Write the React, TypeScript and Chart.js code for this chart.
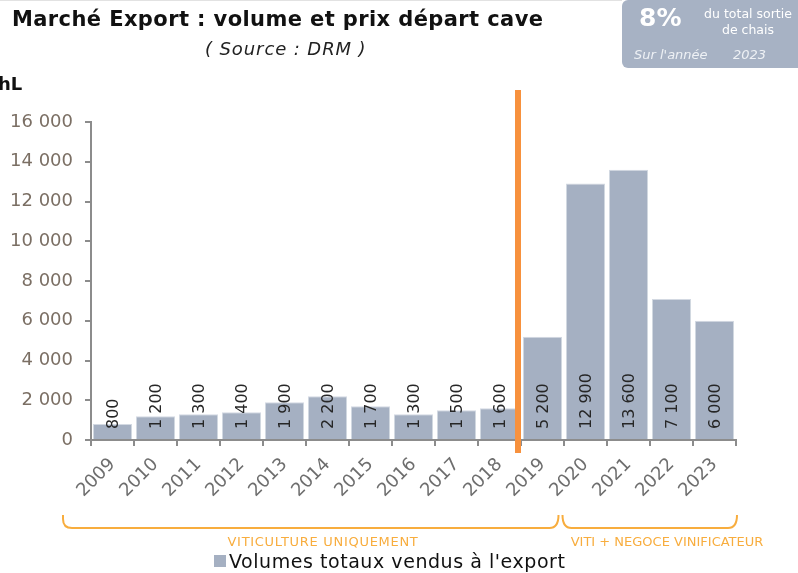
import React, { useEffect, useRef } from "react";
import { Chart, registerables } from "chart.js";

Chart.register(...registerables);

const categories = ["2009", "2010", "2011", "2012", "2013", "2014", "2015", "2016", "2017", "2018", "2019", "2020", "2021", "2022", "2023"];
const volumes = [800, 1200, 1300, 1400, 1900, 2200, 1700, 1300, 1500, 1600, 5200, 12900, 13600, 7100, 6000];
const yMin = 0;
const yMax = 16000;
const yStep = 2000;
const seriesName = "Volumes totaux vendus à l'export";
const groupLabels = ["VITICULTURE UNIQUEMENT", "VITI + NEGOCE VINIFICATEUR"];
const splitIndex = 10; // first category of the second period

const fmt = (v: number) => String(v).replace(/\B(?=(\d{3})+(?!\d))/g, " ");

const BAR = "#a5b0c2";
const ORANGE = "#f7913d";
const BRACKET = "#f8ad3e";
const AXIS = "#8c8c8c";
const FONT = '"DejaVu Sans", sans-serif';

const decorPlugin = {
  id: "decor",
  afterDatasetsDraw(chart: any) {
    const ctx = chart.ctx;
    const meta = chart.getDatasetMeta(0);
    ctx.save();
    ctx.fillStyle = "#262626";
    ctx.font = '16px "DejaVu Sans"';
    ctx.textAlign = "left";
    ctx.textBaseline = "middle";
    meta.data.forEach((el: any, i: number) => {
      ctx.save();
      ctx.translate(el.x + 1, el.base - 10);
      ctx.rotate(-Math.PI / 2);
      ctx.fillText(fmt(volumes[i]), 0, 0);
      ctx.restore();
    });
    ctx.restore();
  },
  afterDraw(chart: any) {
    const ctx = chart.ctx;
    const x = chart.scales.x;
    const area = chart.chartArea;
    const boundary = (x.getPixelForValue(splitIndex - 1) + x.getPixelForValue(splitIndex)) / 2;
    ctx.save();
    ctx.fillStyle = ORANGE;
    ctx.fillRect(boundary - 6, area.top - 32, 6, area.bottom - area.top + 45);
    const top = area.bottom + 75;
    const bot = area.bottom + 88;
    const r = 9;
    const l1 = area.left - 28;
    const join = x.getPixelForValue(splitIndex) + 18;
    const r2 = area.right + 1;
    ctx.strokeStyle = BRACKET;
    ctx.lineWidth = 2;
    ctx.beginPath();
    ctx.moveTo(l1, top);
    ctx.lineTo(l1, bot - r);
    ctx.quadraticCurveTo(l1, bot, l1 + r, bot);
    ctx.lineTo(join - 2 - r, bot);
    ctx.quadraticCurveTo(join - 2, bot, join - 2, top);
    ctx.stroke();
    ctx.beginPath();
    ctx.moveTo(join + 2, top);
    ctx.quadraticCurveTo(join + 2, bot, join + 2 + r, bot);
    ctx.lineTo(r2 - r, bot);
    ctx.quadraticCurveTo(r2, bot, r2, top);
    ctx.stroke();
    ctx.restore();
  },
};

export default function App() {
  const ref = useRef<HTMLCanvasElement>(null);
  useEffect(() => {
    if (!ref.current) return;
    const chart = new Chart(ref.current, {
      type: "bar",
      data: {
        labels: categories,
        datasets: [
          {
            label: seriesName,
            data: volumes,
            backgroundColor: BAR,
            borderColor: "#d3d9e2",
            borderWidth: 1,
            categoryPercentage: 1,
            barPercentage: 0.91,
          },
        ],
      },
      options: {
        animation: false,
        responsive: true,
        maintainAspectRatio: false,
        layout: { padding: { top: 122, right: 62, left: 0, bottom: 0 } },
        plugins: {
          legend: { display: false },
          tooltip: { enabled: false },
        },
        scales: {
          x: {
            grid: { offset: true, drawOnChartArea: false, tickLength: 6, color: AXIS, lineWidth: 2 },
            border: { color: AXIS, width: 2 },
            ticks: {
              minRotation: 45,
              maxRotation: 45,
              autoSkip: false,
              color: "#6e6e6e",
              font: { family: "DejaVu Sans", size: 18 },
              padding: 8,
            },
            afterFit: (s: any) => {
              s.height = 133;
            },
          },
          y: {
            min: yMin,
            max: yMax,
            ticks: {
              stepSize: yStep,
              callback: (v: any) => fmt(Number(v)),
              color: "#7b6f64",
              font: { family: "DejaVu Sans", size: 18 },
              padding: 12,
            },
            grid: { drawOnChartArea: false, tickLength: 6, color: AXIS, lineWidth: 2 },
            border: { color: AXIS, width: 2 },
            afterFit: (s: any) => {
              s.width = 91;
            },
          },
        },
      },
      plugins: [decorPlugin],
    } as any);
    return () => chart.destroy();
  }, []);

  const abs = (o: React.CSSProperties): React.CSSProperties => ({ position: "absolute", whiteSpace: "nowrap", ...o });

  return (
    <div
      style={{
        position: "fixed",
        left: 0,
        top: 0,
        width: 798,
        height: 573,
        background: "#fff",
        overflow: "hidden",
        fontFamily: FONT,
      }}
    >
      <div style={{ position: "absolute", left: 0, top: 0, width: 798, height: 573 }}>
        <canvas ref={ref} />
      </div>
      <div style={abs({ left: 0, top: 0, width: 622, height: 1, background: "#e2e2e2" })} />
      <div
        style={abs({
          left: 12,
          top: 4,
          fontSize: 21,
          fontWeight: 700,
          color: "#111",
          lineHeight: "30px",
          letterSpacing: 0.4,
        })}
      >
        Marché Export : volume et prix départ cave
      </div>
      <div
        style={abs({
          left: 205,
          top: 36,
          fontSize: 18,
          fontStyle: "italic",
          color: "#222",
          lineHeight: "26px",
          letterSpacing: 0.9,
        })}
      >
        ( Source : DRM )
      </div>
      <div style={abs({ left: -2, top: 72, fontSize: 18, fontWeight: 700, color: "#111", lineHeight: "24px" })}>hL</div>
      <div
        style={abs({
          left: 622,
          top: 0,
          width: 190,
          height: 68,
          background: "#a7b2c4",
          borderRadius: 6,
        })}
      />
      <div style={abs({ left: 639, top: 1, fontSize: 25, fontWeight: 700, color: "#fff", lineHeight: "34px" })}>8%</div>
      <div
        style={abs({
          left: 694,
          top: 6,
          width: 108,
          textAlign: "center",
          fontSize: 12.5,
          color: "#fff",
          lineHeight: "16px",
        })}
      >
        du total sortie
        <br />
        de chais
      </div>
      <div style={abs({ left: 634, top: 46, fontSize: 13, fontStyle: "italic", color: "#eef1f5", lineHeight: "18px" })}>
        Sur l'année
      </div>
      <div style={abs({ left: 733, top: 46, fontSize: 13, fontStyle: "italic", color: "#eef1f5", lineHeight: "18px" })}>
        2023
      </div>
      <div
        style={abs({
          left: 214,
          top: 533,
          width: 218,
          textAlign: "center",
          fontSize: 13,
          color: BRACKET,
          lineHeight: "18px",
          letterSpacing: 0.7,
        })}
      >
        {groupLabels[0]}
      </div>
      <div
        style={abs({
          left: 567,
          top: 533,
          width: 200,
          textAlign: "center",
          fontSize: 13,
          color: BRACKET,
          lineHeight: "18px",
        })}
      >
        {groupLabels[1]}
      </div>
      <div style={abs({ left: 214, top: 555, width: 12, height: 12, background: BAR })} />
      <div style={abs({ left: 229, top: 548, fontSize: 19, color: "#111", lineHeight: "26px", letterSpacing: 0.55 })}>
        {seriesName}
      </div>
    </div>
  );
}
